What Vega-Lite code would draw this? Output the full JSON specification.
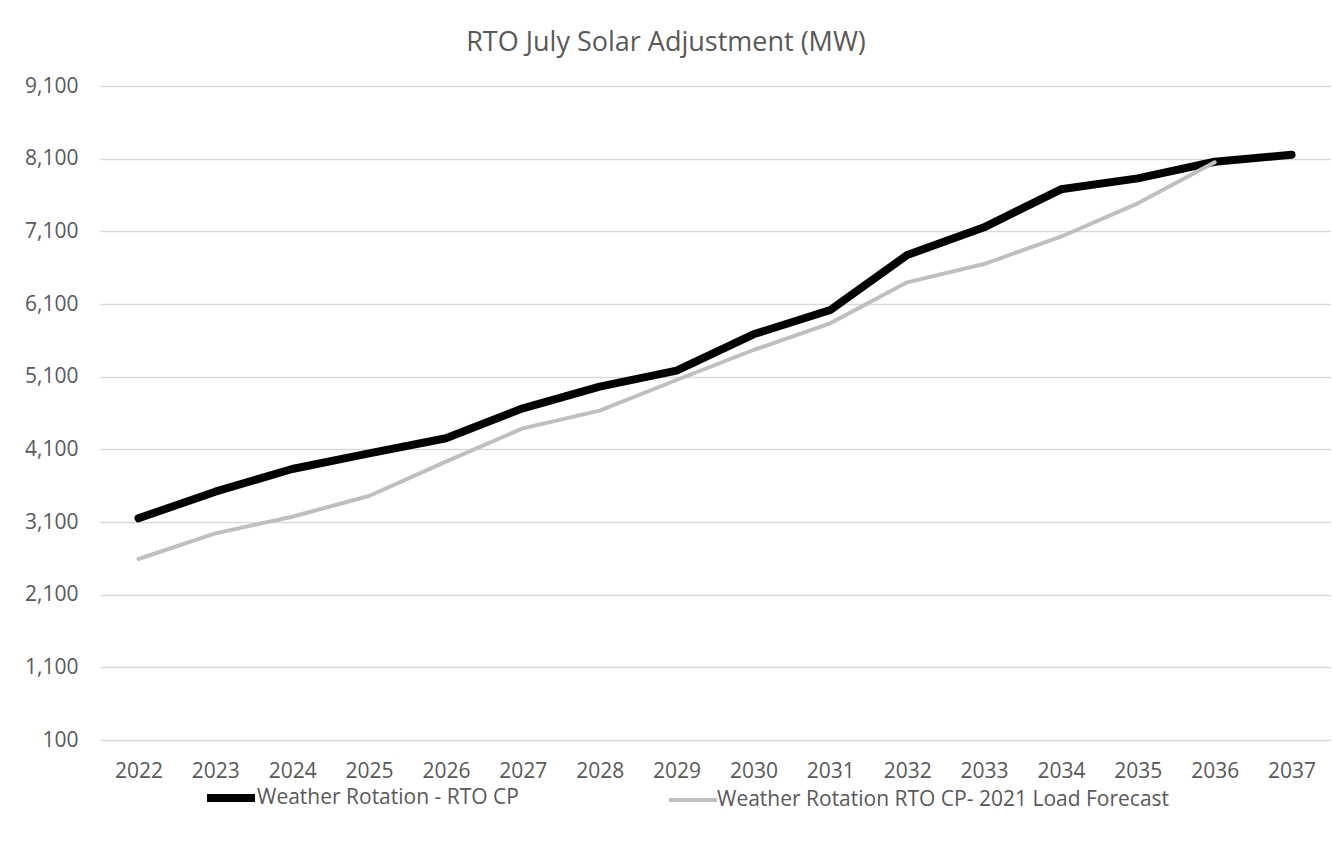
{
  "$schema": "https://vega.github.io/schema/vega-lite/v6.json",
  "width": 1230,
  "height": 654,
  "autosize": {"type": "none"},
  "padding": {"left": 100, "top": 86, "right": 2, "bottom": 103},
  "background": "#ffffff",
  "title": {
    "text": "RTO July Solar Adjustment (MW)",
    "anchor": "middle",
    "dx": -49,
    "offset": 18,
    "font": "Open Sans",
    "fontSize": 27,
    "fontWeight": "normal",
    "color": "#595959"
  },
  "config": {
    "view": {"stroke": null},
    "axis": {"labelFont": "Open Sans", "labelColor": "#595959", "labelFontSize": 21, "ticks": false, "domain": false},
    "legend": {"labelFont": "Open Sans", "labelColor": "#595959", "labelFontSize": 21}
  },
  "data": {
    "values": [
      {"year": "2022", "series": "Weather Rotation - RTO CP", "value": 3151},
      {"year": "2023", "series": "Weather Rotation - RTO CP", "value": 3517},
      {"year": "2024", "series": "Weather Rotation - RTO CP", "value": 3829},
      {"year": "2025", "series": "Weather Rotation - RTO CP", "value": 4045},
      {"year": "2026", "series": "Weather Rotation - RTO CP", "value": 4252},
      {"year": "2027", "series": "Weather Rotation - RTO CP", "value": 4665},
      {"year": "2028", "series": "Weather Rotation - RTO CP", "value": 4962},
      {"year": "2029", "series": "Weather Rotation - RTO CP", "value": 5182},
      {"year": "2030", "series": "Weather Rotation - RTO CP", "value": 5683},
      {"year": "2031", "series": "Weather Rotation - RTO CP", "value": 6017},
      {"year": "2032", "series": "Weather Rotation - RTO CP", "value": 6774},
      {"year": "2033", "series": "Weather Rotation - RTO CP", "value": 7155},
      {"year": "2034", "series": "Weather Rotation - RTO CP", "value": 7678},
      {"year": "2035", "series": "Weather Rotation - RTO CP", "value": 7829},
      {"year": "2036", "series": "Weather Rotation - RTO CP", "value": 8058},
      {"year": "2037", "series": "Weather Rotation - RTO CP", "value": 8154},
      {"year": "2022", "series": "Weather Rotation RTO CP- 2021 Load Forecast", "value": 2591},
      {"year": "2023", "series": "Weather Rotation RTO CP- 2021 Load Forecast", "value": 2944},
      {"year": "2024", "series": "Weather Rotation RTO CP- 2021 Load Forecast", "value": 3173},
      {"year": "2025", "series": "Weather Rotation RTO CP- 2021 Load Forecast", "value": 3458},
      {"year": "2026", "series": "Weather Rotation RTO CP- 2021 Load Forecast", "value": 3930},
      {"year": "2027", "series": "Weather Rotation RTO CP- 2021 Load Forecast", "value": 4389},
      {"year": "2028", "series": "Weather Rotation RTO CP- 2021 Load Forecast", "value": 4632},
      {"year": "2029", "series": "Weather Rotation RTO CP- 2021 Load Forecast", "value": 5054},
      {"year": "2030", "series": "Weather Rotation RTO CP- 2021 Load Forecast", "value": 5467},
      {"year": "2031", "series": "Weather Rotation RTO CP- 2021 Load Forecast", "value": 5834},
      {"year": "2032", "series": "Weather Rotation RTO CP- 2021 Load Forecast", "value": 6398},
      {"year": "2033", "series": "Weather Rotation RTO CP- 2021 Load Forecast", "value": 6650},
      {"year": "2034", "series": "Weather Rotation RTO CP- 2021 Load Forecast", "value": 7026},
      {"year": "2035", "series": "Weather Rotation RTO CP- 2021 Load Forecast", "value": 7485},
      {"year": "2036", "series": "Weather Rotation RTO CP- 2021 Load Forecast", "value": 8050}
    ]
  },
  "mark": {"type": "line", "strokeCap": "round", "strokeJoin": "round"},
  "encoding": {
    "x": {
      "field": "year",
      "type": "ordinal",
      "scale": {"padding": 0.5},
      "axis": {"title": null, "labelAngle": 0, "labelPadding": 20, "grid": false}
    },
    "y": {
      "field": "value",
      "type": "quantitative",
      "scale": {"domain": [100, 9100], "nice": false, "zero": false},
      "axis": {
        "title": null,
        "values": [100, 1100, 2100, 3100, 4100, 5100, 6100, 7100, 8100, 9100],
        "format": ",d",
        "labelPadding": 22,
        "grid": true,
        "gridColor": "#D9D9D9",
        "gridWidth": 1.3
      }
    },
    "color": {
      "field": "series",
      "type": "nominal",
      "scale": {
        "domain": ["Weather Rotation - RTO CP", "Weather Rotation RTO CP- 2021 Load Forecast"],
        "range": ["#000000", "#BFBFBF"]
      },
      "legend": {
        "title": null,
        "orient": "none",
        "direction": "horizontal",
        "legendX": 103,
        "legendY": 684,
        "symbolType": "stroke",
        "symbolSize": 2304,
        "labelOffset": -2,
        "columnPadding": 142,
        "labelLimit": 600
      }
    },
    "strokeWidth": {
      "field": "series",
      "type": "nominal",
      "scale": {
        "domain": ["Weather Rotation - RTO CP", "Weather Rotation RTO CP- 2021 Load Forecast"],
        "range": [8, 4]
      },
      "legend": null
    }
  }
}
